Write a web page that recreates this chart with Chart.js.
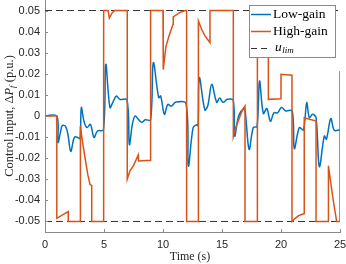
<!DOCTYPE html>
<html lang="en">
<head>
    <meta charset="UTF-8">
    <title>Control input</title>
    <script src="https://cdn.jsdelivr.net/npm/chart.js"></script>
    <style>
        body { margin: 0; background: #fff; }
        #wrap { position: relative; width: 346px; height: 264px; }
    </style>
</head>
<body>
    <div id="wrap"><canvas id="chart" width="346" height="264"></canvas></div>

    <script>
        // Low-gain controller input (time s, p.u.)
        var lowT = [0, 1.0, 1.1, 1.3, 1.47, 1.75, 1.95, 2.18, 2.45, 2.6, 2.85, 2.98, 3.08, 3.3, 3.55, 3.85, 4.15, 4.45, 4.95,
            5.15, 5.5, 5.75, 6.05, 6.35, 6.95, 7.15, 7.4, 7.63, 7.9, 8.2, 8.5, 8.95, 9.18, 9.63, 9.8, 10.12, 10.4, 10.7, 11.1, 11.95,
            12.15, 12.55, 12.85, 12.97, 13.08, 13.55, 13.8, 14.13, 14.55, 14.8, 15.1, 15.45, 15.95, 16.08, 16.4, 16.85, 16.97,
            17.3, 17.65, 17.97, 18.18, 18.5, 18.8, 19.1, 19.4, 19.7, 20.05, 20.4, 20.95, 21.13, 21.55, 21.9, 22.18, 22.4, 22.68,
            22.97, 23.25, 23.67, 23.85, 24.22, 24.52, 25];
        var lowU = [0, 0, -0.0125, -0.008, -0.0045, -0.005, -0.009, -0.0168, -0.0105, -0.0098, -0.0105, -0.0105, 0.004, -0.0024, -0.0055, -0.004, -0.0102, -0.0071, -0.0066,
            0.0245, 0.004, 0.0065, 0.0095, 0.0079, 0.0077, -0.0135, -0.004, 0.0, -0.0015, -0.003, -0.0018, -0.0018, 0.0253, 0.0087, 0.0095, 0.0008, 0.0055, 0.0047, 0.0066, 0.006,
            -0.0237, -0.0055, -0.0042, -0.0045, 0.0182, 0.0028, 0.005, 0.015, 0.0065, 0.0085, 0.0065, 0.0079, 0.0075, -0.0095, -0.0002, 0.0035, 0.002,
            -0.0158, -0.0055, -0.005, 0.0166, 0.0012, 0.0035, -0.0025, 0.0015, 0.0015, 0.004, 0.0024, 0.0024, -0.0155, -0.0055, -0.0066, 0.0063, -0.0008, 0.0008,
            -0.0008, -0.024, -0.0095, -0.011, -0.0012, -0.0068, -0.0065];

        // High-gain controller input
        var highT = [0, 1.0, 1.0, 1.97, 1.97, 3.0, 3.0, 3.1, 3.2, 3.39, 3.62, 3.81, 3.96, 3.96, 4.97, 4.97, 5.35, 5.45, 5.7, 5.9,
            6.97, 6.97, 7.2, 7.5, 7.9, 7.92, 8.95, 8.95, 10.0, 10.02, 10.25, 10.55, 10.85, 10.87, 11.4, 11.9, 12.0, 12.0,
            13.0, 13.0, 13.28, 13.56, 13.98, 13.98, 15.96, 15.96, 16.2, 16.5, 16.75, 16.95, 16.95, 18.0, 18.0, 18.93, 18.93,
            20.0, 20.0, 20.93, 20.93, 21.2, 21.5, 21.8, 21.97, 21.97, 22.97, 22.97, 24.02, 24.02, 24.2, 24.4, 24.6, 24.72, 25, 25];
        var highU = [0, 0, -0.0485, -0.0453, -0.05, -0.05, -0.0047, -0.009, -0.013, -0.0197, -0.0276, -0.0324, -0.033, -0.05, -0.05, 0.05, 0.05, 0.0465, 0.049, 0.05,
            0.05, -0.030, -0.026, -0.0235, -0.0185, -0.0213, -0.021, 0.05, 0.05, 0.022, 0.033, 0.0387, 0.0435, 0.047, 0.049, 0.05, 0.05, -0.05,
            -0.05, 0.045, 0.041, 0.038, 0.0348, 0.05, 0.05, -0.0098, -0.005, -0.0005, 0.003, 0.0047, -0.05, -0.05, 0.05, 0.05, 0.0079,
            0.0082, 0.0198, 0.0193, -0.05, -0.0485, -0.0472, -0.0466, -0.0463, -0.0008, -0.0024, -0.05, -0.05, -0.0236, -0.031, -0.039, -0.046, -0.05, -0.05, 0.0213];

        // saturation limit
        var limT = [0, 25];
        var uLim = 0.05;

        var xTicks = [0, 5, 10, 15, 20, 25];
        var yTicks = [-0.05, -0.04, -0.03, -0.02, -0.01, 0, 0.01, 0.02, 0.03, 0.04, 0.05];

        var BLUE = '#0072BD';
        var ORANGE = '#D95319';
        var AXIS = '#8a8a8a';
        var SERIF = '"Liberation Serif", "Times New Roman", serif';

        function pairs(t, u) {
            return t.map(function (v, i) { return { x: v, y: u[i] }; });
        }
        function flat(t, v) {
            return t.map(function (x) { return { x: x, y: v }; });
        }

        // draws inward ticks, axis titles and the legend on top of the data
        var extras = {
            id: 'extras',
            afterDraw: function (chart) {
                var ctx = chart.ctx;
                var a = chart.chartArea;
                var xs = chart.scales.x, ys = chart.scales.y;
                ctx.save();

                // ticks pointing inside
                ctx.strokeStyle = AXIS;
                ctx.lineWidth = 1;
                ctx.beginPath();
                xTicks.forEach(function (v) {
                    var px = Math.round(xs.getPixelForValue(v)) + 0.5;
                    ctx.moveTo(px, a.bottom);
                    ctx.lineTo(px, a.bottom - 3);
                });
                yTicks.forEach(function (v) {
                    var py = Math.round(ys.getPixelForValue(v)) + 0.5;
                    ctx.moveTo(a.left, py);
                    ctx.lineTo(a.left + 3, py);
                });
                ctx.stroke();

                // x title
                ctx.fillStyle = '#262626';
                ctx.font = '12px ' + SERIF;
                ctx.textAlign = 'center';
                ctx.textBaseline = 'middle';
                ctx.fillText('Time (s)', 190, 257);

                // y title with italic P and subscript f
                var parts = [
                    { s: 'Control input, \u0394', f: '12.5px ' + SERIF, dy: 0 },
                    { s: 'P', f: 'italic 12.5px ' + SERIF, dy: 0 },
                    { s: 'f', f: 'italic 9px ' + SERIF, dy: 3 },
                    { s: ' (p.u.)', f: '12.5px ' + SERIF, dy: 0 }
                ];
                var total = 0;
                parts.forEach(function (p) { ctx.font = p.f; p.w = ctx.measureText(p.s).width; total += p.w; });
                ctx.translate(10, 116);
                ctx.rotate(-Math.PI / 2);
                ctx.textAlign = 'left';
                var x0 = -total / 2;
                parts.forEach(function (p) {
                    ctx.font = p.f;
                    ctx.fillText(p.s, x0, p.dy);
                    x0 += p.w;
                });
                ctx.setTransform(1, 0, 0, 1, 0, 0);

                // legend box
                var bx = 249, by = 5, bw = 86, bh = 52;
                ctx.fillStyle = '#fff';
                ctx.fillRect(bx, by, bw, bh);
                ctx.strokeStyle = AXIS;
                ctx.strokeRect(bx + 0.5, by + 0.5, bw, bh);

                var rows = [
                    { y: 14.5, color: BLUE, dash: [], w: 1.5 },
                    { y: 31.5, color: ORANGE, dash: [], w: 1.5 },
                    { y: 48.5, color: '#333', dash: [6, 4], w: 1 }
                ];
                rows.forEach(function (r) {
                    ctx.beginPath();
                    ctx.setLineDash(r.dash);
                    ctx.strokeStyle = r.color;
                    ctx.lineWidth = r.w;
                    ctx.moveTo(251, r.y);
                    ctx.lineTo(271, r.y);
                    ctx.stroke();
                });
                ctx.setLineDash([]);
                ctx.fillStyle = '#000';
                ctx.textAlign = 'left';
                ctx.textBaseline = 'middle';
                ctx.font = '13.5px ' + SERIF;
                ctx.fillText('Low-gain', 273, 14.5);
                ctx.fillText('High-gain', 273, 31.5);
                ctx.font = 'italic 13.5px ' + SERIF;
                ctx.fillText('u', 275, 47);
                var uw = ctx.measureText('u').width;
                ctx.font = 'italic 9px ' + SERIF;
                ctx.fillText('lim', 275 + uw + 0.5, 51);
                ctx.restore();
            }
        };

        var chart = new Chart(document.getElementById('chart').getContext('2d'), {
            type: 'scatter',
            data: {
                datasets: [
                    {
                        label: 'Low-gain',
                        data: pairs(lowT, lowU),
                        borderColor: BLUE,
                        borderWidth: 1.5,
                        showLine: true,
                        tension: 0.35,
                        pointRadius: 0,
                        order: 1
                    },
                    {
                        label: 'High-gain',
                        data: pairs(highT, highU),
                        borderColor: ORANGE,
                        borderWidth: 1.5,
                        showLine: true,
                        tension: 0,
                        pointRadius: 0,
                        order: 0
                    },
                    {
                        label: 'u_lim',
                        data: flat(limT, uLim),
                        borderColor: '#333',
                        borderWidth: 1,
                        borderDash: [7, 4],
                        showLine: true,
                        pointRadius: 0,
                        order: 2
                    },
                    {
                        label: '-u_lim',
                        data: flat(limT, -uLim),
                        borderColor: '#333',
                        borderWidth: 1,
                        borderDash: [7, 4],
                        showLine: true,
                        pointRadius: 0,
                        order: 2
                    }
                ]
            },
            options: {
                responsive: false,
                animation: false,
                events: [],
                layout: { padding: { left: 0, right: 6, top: 0, bottom: 0 } },
                plugins: {
                    legend: { display: false },
                    tooltip: { enabled: false }
                },
                scales: {
                    x: {
                        type: 'linear',
                        min: 0,
                        max: 25,
                        afterFit: function (s) { s.height = 32; s.paddingLeft = 0; s.paddingRight = 0; },
                        afterBuildTicks: function (s) { s.ticks = xTicks.map(function (v) { return { value: v }; }); },
                        grid: { display: false, drawTicks: false },
                        border: { display: true, color: AXIS, width: 1 },
                        ticks: {
                            padding: 6,
                            color: '#262626',
                            font: { family: '"Liberation Sans", Arial, sans-serif', size: 11 },
                            maxRotation: 0,
                            callback: function (v) { return String(v); }
                        }
                    },
                    y: {
                        min: -0.055,
                        max: 0.055,
                        afterFit: function (s) { s.width = 45; s.paddingTop = 0; s.paddingBottom = 0; },
                        afterBuildTicks: function (s) { s.ticks = yTicks.map(function (v) { return { value: v }; }); },
                        grid: { display: false, drawTicks: false },
                        border: { display: true, color: AXIS, width: 1 },
                        ticks: {
                            padding: 5,
                            color: '#262626',
                            font: { family: '"Liberation Sans", Arial, sans-serif', size: 11 },
                            callback: function (v) { return Math.abs(v) < 1e-9 ? '0' : v.toFixed(2); }
                        }
                    }
                }
            },
            plugins: [extras]
        });
    </script>
</body>
</html>
